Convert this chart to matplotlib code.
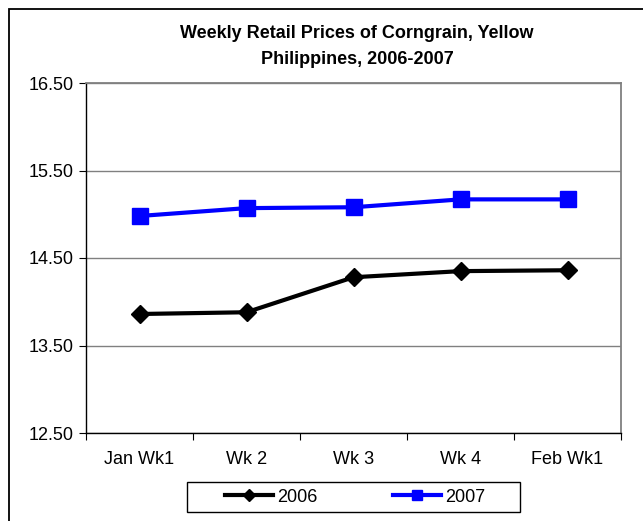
import matplotlib
matplotlib.use("Agg")
import matplotlib.pyplot as plt
from matplotlib.patches import Rectangle

categories = ["Jan Wk1", "Wk 2", "Wk 3", "Wk 4", "Feb Wk1"]
prices_2006 = [13.86, 13.88, 14.28, 14.35, 14.36]
prices_2007 = [14.98, 15.07, 15.08, 15.17, 15.17]
y_ticks = [12.50, 13.50, 14.50, 15.50, 16.50]

plt.rcParams['font.family'] = ['Liberation Sans', 'DejaVu Sans']

W, H = 643, 521
fig = plt.figure(figsize=(W/100, H/100), dpi=100)
ax = fig.add_axes([86/W, 1-433/H, (621-86)/W, (433-83)/H])

x = list(range(len(categories)))
ax.plot(x, prices_2006, color='black', lw=3, marker='D', markersize=8.8,
        markeredgewidth=1, label='2006', solid_joinstyle='round')
ax.plot(x, prices_2007, color='#0000FF', lw=3, marker='s', markersize=11.5,
        markeredgewidth=1, label='2007')

ax.set_ylim(12.5, 16.5)
ax.set_yticks(y_ticks)
ax.set_yticklabels([f"{v:.2f}" for v in y_ticks], fontsize=13)
ax.yaxis.grid(True, color='#808080', lw=1)
ax.set_axisbelow(True)

ax.set_xlim(-0.5, len(categories) - 0.5)
ax.set_xticks([i - 0.5 for i in range(len(categories) + 1)])
ax.set_xticklabels([])
ax.set_xticks(x, minor=True)
ax.set_xticklabels(categories, minor=True, fontsize=13)
ax.tick_params(axis='x', which='major', length=5, direction='out', color='black')
ax.tick_params(axis='x', which='minor', length=0, pad=13)
ax.tick_params(axis='y', length=5, direction='out', color='black', pad=4)

for s in ['top', 'right']:
    ax.spines[s].set_color('#808080')
    ax.spines[s].set_linewidth(1.3)
for s in ['left', 'bottom']:
    ax.spines[s].set_color('black')
    ax.spines[s].set_linewidth(1)

fig.text(357/W, 1-34/H, "Weekly Retail Prices of Corngrain, Yellow",
         ha='center', va='center', fontsize=13, fontweight='bold')
fig.text(357/W, 1-59/H, "Philippines, 2006-2007",
         ha='center', va='center', fontsize=13, fontweight='bold')

leg = fig.legend(loc='center', bbox_to_anchor=(355/W, 1-497/H), ncol=2,
                 frameon=False, fontsize=13, handlelength=2.66,
                 columnspacing=4.2, handletextpad=0.22, borderpad=0.2,
                 markerscale=0.65)

fig.patches.append(Rectangle((187/W, 1-512/H), (520-187)/W, 30/H,
                             transform=fig.transFigure, fill=False,
                             edgecolor='black', lw=1))
fig.patches.append(Rectangle((9/W, -0.1), 1.2, (1-9/H) + 0.1,
                             transform=fig.transFigure, fill=False,
                             edgecolor='black', lw=1.3))

fig.savefig("out.png", dpi=100)
